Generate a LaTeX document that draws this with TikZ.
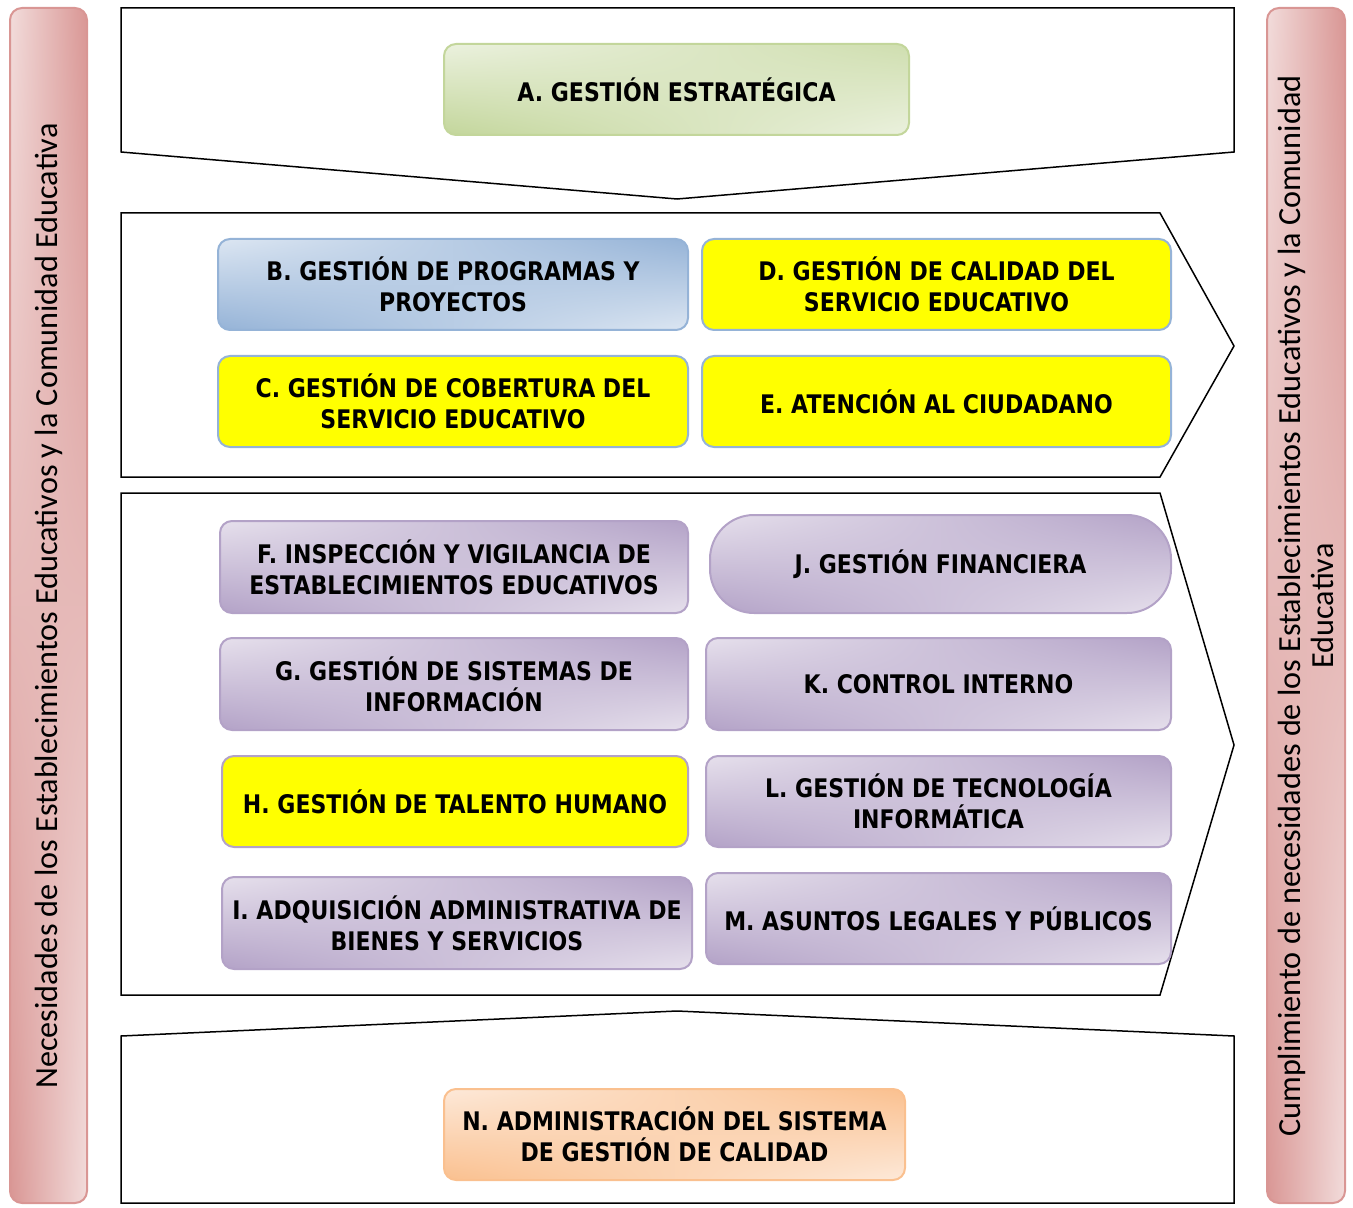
\documentclass[tikz,border=0pt]{standalone}
\usepackage{fontspec}
\setmainfont{DejaVu Sans}
\newfontfamily\boxfont{DejaVu Sans}[FakeStretch=0.86]
\newfontfamily\barfont{Carlito}
\usetikzlibrary{shadings}

\definecolor{greenlight}{RGB}{235,241,222}
\definecolor{greendark}{RGB}{195,214,155}
\definecolor{bluelight}{RGB}{220,230,242}
\definecolor{bluedark}{RGB}{149,179,215}
\definecolor{purplelight}{RGB}{230,224,236}
\definecolor{purpledark}{RGB}{179,162,199}
\definecolor{orangelight}{RGB}{253,233,217}
\definecolor{orangedark}{RGB}{250,192,143}
\definecolor{pinklight}{RGB}{242,220,219}
\definecolor{pinkdark}{RGB}{217,150,148}
\definecolor{boxyellow}{RGB}{255,255,0}

\tikzset{every picture/.style={line width=0.75pt}}
\tikzset{
  frame/.style={draw=black, line width=0.75pt, line join=miter},
  procbox/.style={draw, line width=1pt, rounded corners=6pt, inner sep=0pt, align=center,
    minimum width=235pt, minimum height=45.5pt,
    font=\boxfont\bfseries\fontsize{12.8}{15.5}\selectfont},
  greenbox/.style={procbox, draw=greendark, upper left=greenlight, upper right=greendark!70!greenlight,
    lower left=greendark, lower right=greenlight},
  bluebox/.style={procbox, draw=bluedark, upper left=bluelight, upper right=bluedark,
    lower left=bluedark, lower right=bluelight},
  purplebox/.style={procbox, draw=purpledark, upper left=purplelight, upper right=purpledark,
    lower left=purpledark, lower right=purplelight},
  orangebox/.style={procbox, draw=orangedark, upper left=orangelight, upper right=orangedark,
    lower left=orangedark, lower right=orangelight},
  yellowbox/.style={procbox, fill=boxyellow},
  sidebar/.style={draw=pinkdark, line width=1pt, rounded corners=6pt, upper left=pinklight,
    upper right=pinkdark, lower left=pinkdark, lower right=pinklight},
  bartext/.style={rotate=90, align=center, inner sep=0pt, font=\barfont\fontsize{16.1}{16.5}\selectfont}
}

\begin{document}
\begin{tikzpicture}[x=0.5pt,y=0.5pt,yscale=-1,xscale=1]
\useasboundingbox (0,0) rectangle (1353,1208);

%Shape: Rectangle [left bar]
\path [sidebar] (10,8) rectangle (87,1203);
%Shape: Rectangle [right bar]
\path [sidebar] (1267,8) rectangle (1345,1203);

%Shape: Pentagon [top]
\draw [frame] (121,8) -- (1234,8) -- (1234,152) -- (677,199) -- (121,152) -- cycle ;
%Shape: Chevron [misional]
\draw [frame] (121,213) -- (1160,213) -- (1234,346) -- (1160,477) -- (121,477) -- cycle ;
%Shape: Chevron [apoyo]
\draw [frame] (121,493) -- (1160,493) -- (1234,745) -- (1160,995) -- (121,995) -- cycle ;
%Shape: Pentagon [bottom]
\draw [frame] (121,1036) -- (677,1011) -- (1234,1036) -- (1234,1203) -- (121,1203) -- cycle ;

% Text Node
\node [greenbox, minimum width=232.5pt] (gestA) at (676.5,89.5) {A. GESTIÓN ESTRATÉGICA};
% Text Node
\node [bluebox] (gestB) at (453,284.5) {B. GESTIÓN DE PROGRAMAS Y\\PROYECTOS};
% Text Node
\node [yellowbox, draw=bluedark, minimum width=234.5pt] (gestD) at (936.5,284.5) {D. GESTIÓN DE CALIDAD DEL\\SERVICIO EDUCATIVO};
% Text Node
\node [yellowbox, draw=bluedark] (gestC) at (453,401.5) {C. GESTIÓN DE COBERTURA DEL\\SERVICIO EDUCATIVO};
% Text Node
\node [yellowbox, draw=bluedark, minimum width=234.5pt] (gestE) at (936.5,401.5) {E. ATENCIÓN AL CIUDADANO};

% Text Node
\node [purplebox, minimum width=234pt, minimum height=46pt] (gestF) at (454,567) {F. INSPECCIÓN Y VIGILANCIA DE\\ESTABLECIMIENTOS EDUCATIVOS};
% Text Node
\node [purplebox, minimum width=230.5pt, minimum height=49pt, rounded corners=22pt] (gestJ) at (940.5,564) {J. GESTIÓN FINANCIERA};
% Text Node
\node [purplebox, minimum width=234pt, minimum height=46pt] (gestG) at (454,684) {G. GESTIÓN DE SISTEMAS DE\\INFORMACIÓN};
% Text Node
\node [purplebox, minimum width=232.5pt, minimum height=46pt] (gestK) at (938.5,684) {K. CONTROL INTERNO};
% Text Node
\node [yellowbox, draw=purpledark, minimum width=233pt] (gestH) at (455,801.5) {H. GESTIÓN DE TALENTO HUMANO};
% Text Node
\node [purplebox, minimum width=232.5pt] (gestL) at (938.5,801.5) {L. GESTIÓN DE TECNOLOGÍA\\INFORMÁTICA};
% Text Node
\node [purplebox, minimum width=235pt, minimum height=46pt] (gestI) at (457,923) {I. ADQUISICIÓN ADMINISTRATIVA DE\\BIENES Y SERVICIOS};
% Text Node
\node [purplebox, minimum width=232.5pt] (gestM) at (938.5,918.5) {M. ASUNTOS LEGALES Y PÚBLICOS};

% Text Node
\node [orangebox, minimum width=230.5pt] (gestN) at (674.5,1134.5) {N. ADMINISTRACIÓN DEL SISTEMA\\DE GESTIÓN DE CALIDAD};

% Text Node
\node [bartext] (needs) at (49,606) {Necesidades de los Establecimientos Educativos y la Comunidad Educativa};
% Text Node
\node [bartext] (fulfil) at (1306,606) {Cumplimiento de necesidades de los Establecimientos Educativos y la Comunidad\\Educativa};
\end{tikzpicture}
\end{document}
